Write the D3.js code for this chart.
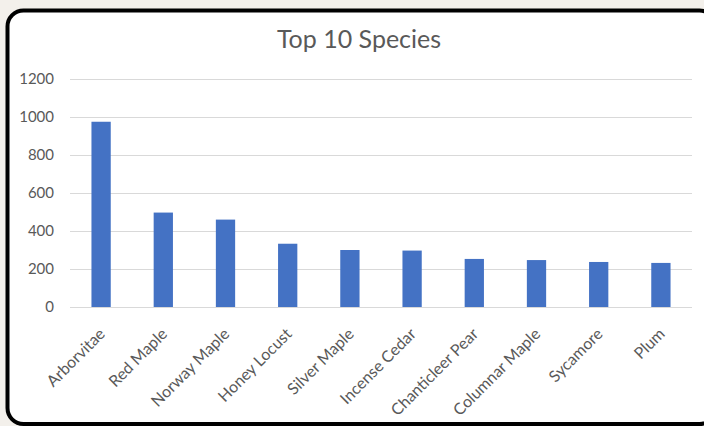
<!DOCTYPE html>
<html><head><meta charset="utf-8">
<script src="https://cdn.jsdelivr.net/npm/d3@7/dist/d3.min.js"></script>
<style>
html,body{margin:0;padding:0;background:#f3f0eb;}
svg{display:block;}
</style></head>
<body>
<svg id="chart" width="704" height="426"></svg>
<script>
const categories = ["Arborvitae","Red Maple","Norway Maple","Honey Locust","Silver Maple","Incense Cedar","Chanticleer Pear","Columnar Maple","Sycamore","Plum"];
const values = [975, 497, 460, 333, 300, 297, 253, 247, 237, 232];
const yTicks = [0, 200, 400, 600, 800, 1000, 1200];
const title = "Top 10 Species";

(function () {
const svg = d3.select("#chart");
const font = "Lato, 'Open Sans', sans-serif";

svg.append("rect")
  .attr("x", 7.5).attr("y", 10.5).attr("width", 708).attr("height", 413.5)
  .attr("rx", 16).attr("ry", 16)
  .attr("fill", "#ffffff").attr("stroke", "#000").attr("stroke-width", 4);

const pLeft = 70, pRight = 692, pTop = 79, pBottom = 307;
const x = d3.scaleBand().domain(categories).range([pLeft, pRight]).paddingInner(0.69).paddingOuter(0.345);
const y = d3.scaleLinear().domain([0, 1200]).range([pBottom, pTop]);

const yAxis = d3.axisLeft(y).tickValues(yTicks).tickSize(-(pRight - pLeft)).tickPadding(16).tickFormat(d3.format("d"));
const gy = svg.append("g").attr("transform", `translate(${pLeft},0)`).call(yAxis);
gy.select(".domain").remove();
gy.selectAll(".tick line").attr("stroke", "#d9d9d9").attr("stroke-width", 1);
gy.selectAll(".tick text").attr("fill", "#595959").style("font-family", font).style("font-size", "15px");

svg.append("g").selectAll("rect").data(values).join("rect")
  .attr("x", (d, i) => x(categories[i]))
  .attr("width", x.bandwidth())
  .attr("y", d => y(d))
  .attr("height", d => y(0) - y(d))
  .attr("fill", "#4472c4");

const xAxis = d3.axisBottom(x).tickSize(0).tickPadding(0);
const gx = svg.append("g").attr("transform", `translate(0,${pBottom})`).call(xAxis);
gx.select(".domain").remove();
gx.selectAll(".tick text")
  .attr("fill", "#595959").style("font-family", font).style("font-size", "16px")
  .attr("text-anchor", "end")
  .attr("dy", "0")
  .attr("transform", "translate(5,28) rotate(-45)");

svg.append("text")
  .attr("x", 359).attr("y", 48)
  .attr("text-anchor", "middle")
  .attr("fill", "#595959")
  .style("font-family", font).style("font-size", "25px")
  .text(title);
})();
</script>
</body></html>
